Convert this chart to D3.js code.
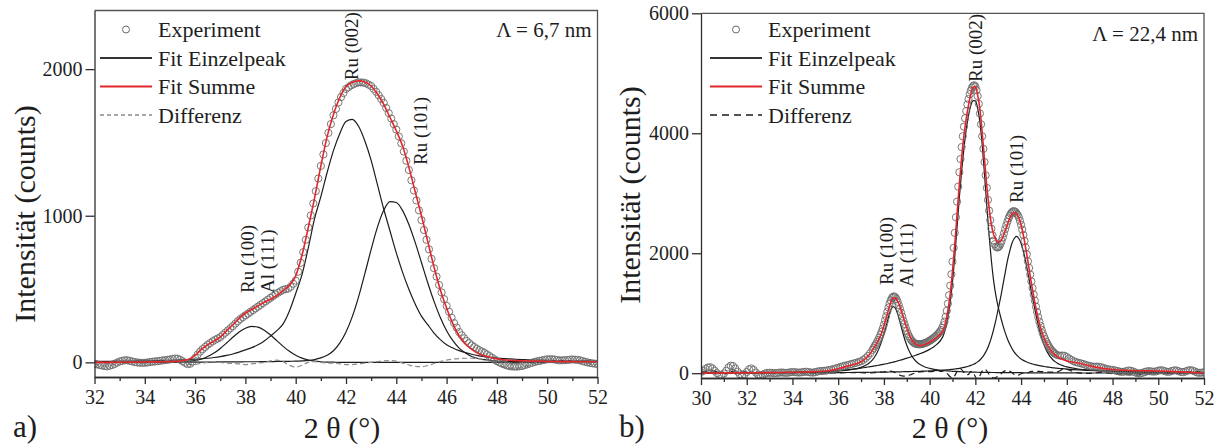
<!DOCTYPE html>
<html>
<head>
<meta charset="utf-8">
<script src="https://cdn.jsdelivr.net/npm/d3@7"></script>
<style>
body { margin: 0; background: #fff; }
svg text { font-family: "Liberation Serif", "Times New Roman", serif; fill: #1e1e1e; }
</style>
</head>
<body>
<svg id="chart" width="1219" height="448"></svg>
<script>
// ---------- panel a)  Lambda = 6,7 nm ----------
var thetaFitA = d3.range(32, 52.001, 0.25);
var thetaExpA = d3.range(32, 52.001, 0.1);

var expA = [
  -10,-14,-18,-22,-25,-28,-23,-18,-11,-2,
  6,10,14,14,10,6,2,-1,-3,-3,
  -3,-1,2,4,6,8,10,13,15,17,
  20,23,26,25,18,8,-3,-12,-10,5,
  30,53,73,90,105,120,132,144,154,163,
  172,187,202,217,232,247,264,281,296,308,
  320,332,344,356,368,380,392,404,416,428,
  440,452,464,475,485,495,499,503,515,536,
  557,618,679,752,836,920,1002,1084,1168,1254,
  1340,1418,1496,1565,1625,1685,1729,1773,1809,1837,
  1865,1877,1889,1898,1904,1910,1909,1908,1903,1894,
  1885,1865,1845,1822,1796,1770,1735,1700,1663,1625,
  1588,1541,1494,1438,1375,1312,1242,1172,1104,1037,
  970,903,836,771,706,642,585,528,477,431,
  385,345,304,268,237,206,185,164,146,131,
  116,104,93,83,74,65,54,43,32,20,
  9,0,-8,-15,-21,-26,-28,-29,-29,-27,
  -25,-19,-14,-8,-3,3,7,10,14,17,
  21,21,21,19,16,13,14,15,16,18,
  20,18,17,14,9,4,0,-4,-7,-9,
  -11
];

var peak1A = [
  0,0,0,0, 0,0,0,0, 0,0,0,0, 1,1,3,6,
  13,23,40,63, 95,132,171,207, 233,245,240,219, 186,148,109,75,
  48,29,16,8, 4,2,1,0, 0,0,0,0, 0,0,0,0, 0,0,0,0, 0,0,0,0,
  0,0,0,0, 0,0,0,0, 0,0,0,0, 0,0,0,0,
  0
];
var peak2A = [
  7,7,7,8, 8,9,9,10, 11,11,12,13, 14,15,17,19,
  21,24,28,33, 39,47,57,70, 85,100,120,146, 180,216,262,350,
  470,598,780,980, 1130,1295,1444,1560, 1643,1658,1610,1510, 1378,1212,1046,896,
  747,614,498,398, 315,257,200,155, 120,98,80,66, 55,46,39,33,
  29,26,23,21, 19,17,16,15, 14,13,12,12, 11,10,10,9,
  9
];
var peak3A = [
  1,1,1,1, 1,1,1,1, 1,1,1,1, 1,1,1,1,
  2,2,2,2, 3,3,3,3, 4,4,4,5, 5,6,6,7,
  8,10,13,19, 30,48,79,131, 207,312,447,605, 770,922,1037,1096,
  1090,1035,940,818, 681,543,416,306, 216,148,97,64, 40,26,18,12,
  9,7,6,5, 5,4,4,4, 4,3,3,3, 3,3,3,3,
  3
];
var sumA = [
  0,0,0,0, 1,1,1,2, 2,3,3,4, 5,7,11,22,
  48,88,120,145, 172,215,255,300, 335,360,385,410, 430,455,490,525,
  590,730,920,1120, 1340,1540,1690,1805, 1880,1910,1920,1912, 1885,1830,1760,1670,
  1580,1475,1330,1165, 1000,825,650,495, 370,262,180,125, 88,62,45,33,
  24,18,14,12, 10,9,8,7, 6,6,5,5, 5,4,4,4,
  4
];
var diffA = [
  -10,-20,-28,-15, 5,15,5,-5, -5,0,5,10, 15,20,5,-15,
  -15,-5,0,5, 0,-5,-8,-10, -15,-10,-5,0, 10,15,5,-20,
  -33,-20,0,5, 0,-5,-5,-10, -15,-15,-10,-5, 0,5,10,12,
  8,-5,-18,-28, -30,-22,-8,5, 15,22,26,28, 28,25,20,5,
  -15,-30,-40,-42, -35,-20,-5,5, 15,15,8,10, 15,12,0,-10,
  -15
];

// ---------- panel b)  Lambda = 22,4 nm ----------
var thetaFitB = d3.range(30, 36.6, 0.5).concat(d3.range(37, 46.001, 0.1), d3.range(46.5, 52.001, 0.5));
var thetaExpB = d3.range(30, 37.45, 0.1).concat(d3.range(37.5, 45.475, 0.05), d3.range(45.5, 52.001, 0.1));

var expB = [
  20,40,70,95,100,80,40,0,-30,-30,
  -5,40,95,125,120,80,25,-20,-35,-20,
  20,65,80,55,10,-25,-35,-25,-5,5,
  8,5,0,2,8,12,10,5,8,15,
  20,18,12,10,15,22,25,20,12,10,
  18,28,35,38,40,45,52,60,70,80,
  92,105,115,125,135,145,155,165,175,188,
  200,222,250,288,335,
  390,420,455,485,520,555,595,640,690,745,
  810,880,950,1025,1095,1160,1215,1255,1275,1280,1265,1235,1190,1135,1075,1010,945,880,820,760,
  705,655,615,580,550,528,510,498,490,485,483,482,483,486,490,496,503,511,520,530,
  541,553,566,580,595,611,628,647,668,692,720,755,800,860,940,1040,1160,1300,1460,1650,
  1860,2090,2340,2600,2860,3110,3350,3570,3770,3950,4110,4250,4370,4480,4570,4650,4710,4760,4790,4800,
  4780,4720,4620,4490,4330,4150,3950,3740,3520,3300,3090,2890,2710,2550,2410,2300,2210,2150,2110,2095,
  2100,2120,2155,2205,2265,2330,2400,2465,2525,2580,2625,2660,2685,2700,2700,2690,2665,2640,2600,2540,
  2475,2395,2305,2205,2095,1980,1865,1755,1645,1530,1420,1310,1210,1110,1020,935,860,790,725,665,
  615,568,525,488,455,425,398,373,352,335,
  318,300,292,295,290,
  270,245,220,200,185,175,165,155,142,130,
  120,112,108,110,108,100,88,75,65,60,
  55,48,38,28,22,25,35,45,42,28,
  12,0,-5,5,20,30,35,30,25,30,
  42,50,45,32,22,25,38,48,45,32,
  20,18,30,45,52,45,28,12,5,10,
  15
];

var peak1B = [
  3,3,4,4,5,6,7,9,11,14,19,25,36,56,
  98,113,131,154,184,224,275,341,426,531,
  656,797,938,1053,1109,1084,989,855,712,579,
  466,373,300,243,199,165,140,120,104,91,
  81,72,65,59,53,48,44,41,37,34,
  32,30,28,26,24,23,21,20,19,18,
  17,16,15,15,14,13,13,12,12,11,
  11,10,10,10,9,9,9,8,8,8,
  8,7,7,7,7,6,6,6,6,6,
  5,5,5,5,5,5,5,4,4,4,
  4,
  4,3,3,3,2,2,2,2,2,2,2,2
];
var peak2B = [
  6,7,8,9,10,12,14,16,19,23,28,35,45,62,
  85,91,97,103,109,115,121,128,135,142,
  150,158,166,175,184,194,206,216,227,238,
  250,262,274,287,300,314,328,343,359,377,
  397,420,446,476,512,560,630,750,930,1180,
  1520,1950,2440,2930,3370,3750,4060,4300,4460,4545,
  4540,4420,4180,3800,3310,2790,2300,1880,1540,1290,
  1100,945,805,680,575,485,412,352,305,268,
  238,214,195,179,165,153,143,134,126,119,
  112,106,100,95,90,86,82,78,75,72,
  69,
  56,47,40,34,29,25,22,20,18,16,14,13
];
var peak3B = [
  4,4,4,5,5,6,6,7,7,8,9,10,11,12,
  14,14,15,15,16,16,17,17,18,18,
  19,19,20,21,21,22,23,23,24,25,
  26,27,28,29,30,31,32,34,35,37,
  38,40,42,44,46,49,51,54,57,61,
  65,70,75,81,88,96,105,116,130,146,
  164,189,221,262,319,388,479,593,730,889,
  1072,1254,1459,1664,1870,2029,2166,2246,2280,2246,
  2166,2029,1870,1664,1459,1254,1072,889,730,593,
  479,388,319,262,221,189,164,146,130,116,
  105,
  70,52,40,32,26,22,18,16,14,12,11,10
];
var sumB = [
  3,4,5,6,7,8,10,12,15,19,26,38,75,130,
  190,215,245,285,330,385,445,510,580,670,
  790,920,1060,1180,1250,1255,1200,1110,990,870,
  750,650,570,515,480,465,460,465,478,495,
  515,540,565,595,625,660,720,850,1050,1320,
  1700,2150,2650,3150,3600,3960,4240,4470,4650,4770,
  4780,4640,4400,4000,3560,3120,2760,2480,2310,2220,
  2185,2200,2270,2370,2480,2580,2650,2680,2660,2590,
  2470,2300,2090,1860,1620,1390,1180,990,830,700,
  590,505,435,380,335,300,272,250,232,217,
  205,
  170,122,85,62,48,42,40,36,30,22,12,5
];
var diffB = [
  20,40,0,40,20,-15,5,5,5,5,0,5,5,10,
  10,7,5,3,5,5,10,10,15,20,
  20,30,35,35,25,10,-10,-35,-45,-50,
  -45,-35,-20,-5,10,18,23,25,25,25,
  26,26,30,33,40,30,40,20,-20,-60,
  -80,-40,30,80,60,10,-30,-20,30,20,
  -60,-100,-40,40,70,40,-20,-60,-80,-70,
  -50,-20,20,40,45,35,10,-20,-40,-30,
  -10,5,5,5,25,30,30,30,30,25,
  25,20,20,18,17,18,28,42,63,73,
  65,
  5,-2,15,-7,-23,-30,-10,6,-5,-2,33,10
];

// ---------- labels / ticks ----------
var legendLabels = ["Experiment", "Fit Einzelpeak", "Fit Summe", "Differenz"];
var yTicksA = [0, 1000, 2000];
var yTicksB = [0, 2000, 4000, 6000];
var peakLabelsA = [
  { text: "Ru (002)", x: 42.49, y: 1925 },
  { text: "Ru (101)", x: 45.23, y: 1346 },
  { text: "Ru (100)", x: 38.35, y: 473 },
  { text: "Al (111)", x: 39.14, y: 473 }
];
var peakLabelsB = [
  { text: "Ru (002)", x: 42.27, y: 4855 },
  { text: "Ru (101)", x: 44.09, y: 2837 },
  { text: "Ru (100)", x: 38.41, y: 1470 },
  { text: "Al (111)", x: 39.27, y: 1437 }
];

var svg = d3.select("#chart");
var red = "#e3262a";
var dark = "#1c1c1c";
var axisCol = "#2e2e2e";
var serif = "'Liberation Serif', 'Times New Roman', serif";

function drawPanel(o) {
  var x = d3.scaleLinear().domain(o.xDomain).range([o.left, o.right]);
  var y = d3.scaleLinear().domain(o.yDomain).range([o.bottom, o.top]);

  svg.append("clipPath").attr("id", "clip" + o.id)
    .append("rect")
    .attr("x", o.left).attr("y", o.top)
    .attr("width", o.right - o.left).attr("height", o.bottom - o.top);

  var plot = svg.append("g").attr("clip-path", "url(#clip" + o.id + ")");

  var line = d3.line()
    .x(function(d) { return x(d[0]); })
    .y(function(d) { return y(d[1]); })
    .curve(d3.curveMonotoneX);

  //single peaks
  o.peaks.forEach(function(p) {
    plot.append("path")
      .datum(d3.zip(o.fitX, p))
      .attr("d", line)
      .attr("fill", "none")
      .attr("stroke", dark)
      .attr("stroke-width", 1.2);
  });

  //difference
  plot.append("path")
    .datum(d3.zip(o.fitX, o.diff))
    .attr("d", line)
    .attr("fill", "none")
    .attr("stroke", o.diffColor)
    .attr("stroke-width", 1.2)
    .attr("stroke-dasharray", o.diffDash);

  //experiment
  plot.selectAll("circle")
    .data(d3.zip(o.expX, o.exp))
    .enter()
    .append("circle")
    .attr("cx", function(d) { return x(d[0]); })
    .attr("cy", function(d) { return y(d[1]); })
    .attr("r", 3.6)
    .attr("fill", "none")
    .attr("stroke", "#6a6a6a")
    .attr("stroke-width", 0.9);

  //fit sum
  plot.append("path")
    .datum(d3.zip(o.fitX, o.sum))
    .attr("d", line)
    .attr("fill", "none")
    .attr("stroke", red)
    .attr("stroke-width", 1.6);

  //axes
  var evens = d3.range(o.xDomain[0], o.xDomain[1] + 0.1, 2);
  var odds = d3.range(o.xDomain[0] + 1, o.xDomain[1], 2);

  var xMinor = svg.append("g")
    .attr("transform", "translate(0," + o.bottom + ")")
    .call(d3.axisBottom(x).tickValues(odds).tickSize(4).tickFormat("").tickSizeOuter(0));
  var xMajor = svg.append("g")
    .attr("transform", "translate(0," + o.bottom + ")")
    .call(d3.axisBottom(x).tickValues(evens).tickSize(7).tickPadding(6).tickSizeOuter(0)
      .tickFormat(d3.format("d")));
  var yAxis = svg.append("g")
    .attr("transform", "translate(" + o.left + ",0)")
    .call(d3.axisLeft(y).tickValues(o.yTicks).tickSize(9).tickPadding(3).tickSizeOuter(0)
      .tickFormat(d3.format("d")));

  [xMinor, xMajor, yAxis].forEach(function(a) {
    a.attr("color", axisCol)
      .attr("font-family", serif)
      .attr("font-size", 20);
    a.selectAll("path, line").attr("stroke-width", 1.3);
  });

  //top and right frame
  svg.append("path")
    .attr("d", "M" + o.left + "," + o.top + "H" + o.right + "V" + o.bottom)
    .attr("fill", "none")
    .attr("stroke", "#555")
    .attr("stroke-width", 1.3);

  //axis titles
  svg.append("text")
    .attr("x", o.xTitleX).attr("y", 438)
    .attr("text-anchor", "middle")
    .attr("font-size", 30)
    .text("2 \u03b8 (\u00b0)");
  svg.append("text")
    .attr("transform", "translate(" + o.yTitleX + "," + o.yTitleY + ") rotate(-90)")
    .attr("text-anchor", "middle")
    .attr("font-size", 30)
    .text("Intensit\u00e4t (counts)");

  //panel letter
  svg.append("text")
    .attr("x", o.letterX).attr("y", 437)
    .attr("font-size", 31)
    .text(o.letter);

  //lambda
  svg.append("text")
    .attr("x", o.right - 6).attr("y", o.lambdaY)
    .attr("text-anchor", "end")
    .attr("font-size", 21)
    .text(o.lambda);

  //peak labels
  o.labels.forEach(function(l) {
    svg.append("text")
      .attr("transform", "translate(" + x(l.x) + "," + y(l.y) + ") rotate(-90)")
      .attr("font-size", 19)
      .text(l.text);
  });

  //legend
  var lg = svg.append("g").attr("transform", "translate(" + o.legendX + ",0)");
  var rows = [37, 65.5, 94, 122.5];
  lg.append("circle")
    .attr("cx", 32).attr("cy", 29.5).attr("r", 3.5)
    .attr("fill", "none").attr("stroke", "#6a6a6a").attr("stroke-width", 1);
  lg.append("line").attr("x1", 6).attr("x2", 58).attr("y1", 58).attr("y2", 58)
    .attr("stroke", "#333").attr("stroke-width", 2);
  lg.append("line").attr("x1", 6).attr("x2", 58).attr("y1", 86.5).attr("y2", 86.5)
    .attr("stroke", red).attr("stroke-width", 2);
  lg.append("line").attr("x1", 6).attr("x2", 58).attr("y1", 115).attr("y2", 115)
    .attr("stroke", o.diffColor).attr("stroke-width", 1.5)
    .attr("stroke-dasharray", o.legendDash);
  legendLabels.forEach(function(t, i) {
    lg.append("text")
      .attr("x", 64).attr("y", rows[i])
      .attr("font-size", 22)
      .text(t);
  });
}

drawPanel({
  id: "a", left: 94.5, right: 597.5, top: 10.5, bottom: 377,
  xDomain: [32, 52], yDomain: [-100, 2400], yTicks: yTicksA,
  fitX: thetaFitA, peaks: [peak1A, peak2A, peak3A], sum: sumA, diff: diffA,
  expX: thetaExpA, exp: expA,
  diffColor: "#8c8c8c", diffDash: "5,3", legendDash: "4,3",
  labels: peakLabelsA,
  xTitleX: 342, yTitleX: 35, yTitleY: 214,
  letter: "a)", letterX: 13,
  lambda: "\u039b = 6,7 nm", lambdaY: 37,
  legendX: 94
});

drawPanel({
  id: "b", left: 701, right: 1204, top: 13.3, bottom: 378,
  xDomain: [30, 52], yDomain: [-80, 6000], yTicks: yTicksB,
  fitX: thetaFitB, peaks: [peak1B, peak2B, peak3B], sum: sumB, diff: diffB,
  expX: thetaExpB, exp: expB,
  diffColor: dark, diffDash: "6,4", legendDash: "7,5",
  labels: peakLabelsB,
  xTitleX: 950, yTitleX: 640, yTitleY: 195,
  letter: "b)", letterX: 619,
  lambda: "\u039b = 22,4 nm", lambdaY: 41,
  legendX: 704
});
</script>
</body>
</html>
